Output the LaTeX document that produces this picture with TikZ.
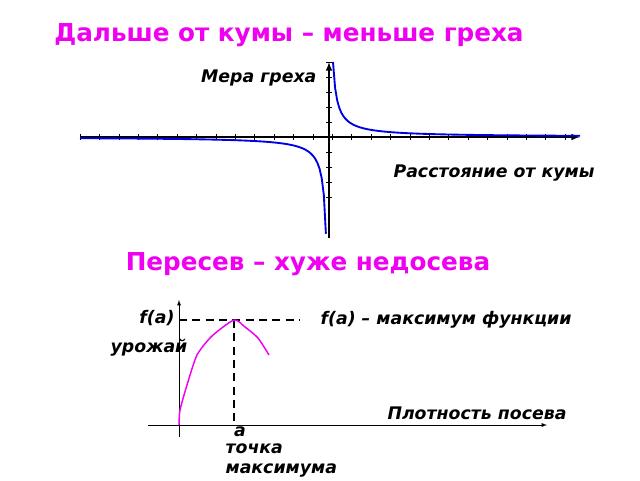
\documentclass[tikz,border=0pt]{standalone}
\usepackage{fontspec}
\setmainfont{DejaVu Sans}
\definecolor{pink}{RGB}{240,0,240}
\tikzset{
	title/.style={font=\bfseries\fontsize{18.5}{22}\selectfont, text=pink},
	lbl/.style={font=\bfseries\itshape\fontsize{13}{15}\selectfont, inner sep=1pt},
	axis/.style={thick, -latex},
	graph/.style={line width=1.4pt, draw=blue!90!black},
	crop/.style={line width=1.1pt, draw=pink}
}
\begin{document}
\begin{tikzpicture}[x=0.75pt, y=-0.75pt]
	\useasboundingbox (0,0) rectangle (640,480);
	% first chart
	\node[title] (t1) at (289,35) {Дальше от кумы – меньше греха};
	\coordinate (xl) at (80,137);
	\coordinate (xr) at (580,137);
	\coordinate (yb) at (329,238);
	\coordinate (yt) at (329,62);
	\draw[axis, line width=1.2pt] (xl) -- (xr);
	\draw[axis, line width=1.2pt] (yb) -- (yt);
	\foreach \x in {0,...,25} \draw (80+19.4*\x,134) -- (80+19.4*\x,140);
	\foreach \y in {-5,...,4} \draw (326,137+15*\y) -- (332,137+15*\y);
	\draw[graph] plot[domain=333:580, samples=120] (\x,{137-300/(\x-329)});
	\draw[graph] plot[domain=80:325.9, samples=120] (\x,{137-300/(\x-329)});
	\node[lbl, anchor=east] (mera) at (318,78) {Мера греха};
	\node[lbl] (rast) at (494,173) {Расстояние от кумы};
	% second chart
	\node[title] (t2) at (308,264) {Пересев – хуже недосева};
	\coordinate (ax) at (148,425);
	\coordinate (bx) at (547,425);
	\coordinate (ay) at (179,437);
	\coordinate (by) at (179,300);
	\coordinate (peak) at (234,320);
	\coordinate (ha) at (179,320);
	\coordinate (hb) at (300,320);
	\coordinate (va) at (234,425);
	\draw[axis, thin, -latex] (ax) -- (bx);
	\draw[axis, thin, -latex] (ay) -- (by);
	\draw[thick, dash pattern=on 6pt off 4pt] (ha) -- (hb);
	\draw[thick, dash pattern=on 6pt off 4pt] (peak) -- (va);
	\draw[crop] plot[smooth, tension=0.4] coordinates {(179,425) (180,410) (187,385) (197,355) (212,336) (234,320) (245,327) (258,338) (269,355)};
	\node[lbl] (fa) at (157,318) {f(a)};
	\node[lbl, anchor=west] (famax) at (319,320) {f(a) – максимум функции};
	\node[lbl] (urozh) at (149,348) {урожай};
	\node[lbl] (plot) at (477,413) {Плотность посева};
	\node[lbl] (a) at (240,432) {a};
	\node[lbl, anchor=north west, align=left] (tochka) at (224,442) {точка\\максимума};
\end{tikzpicture}
\end{document}
